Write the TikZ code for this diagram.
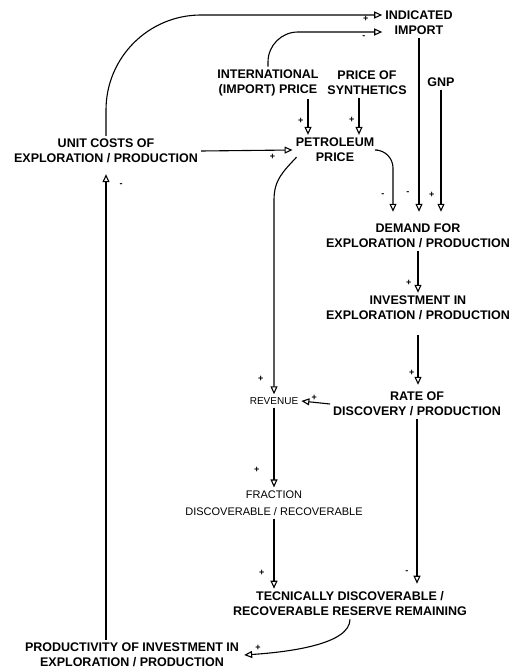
\documentclass[tikz,border=0pt]{standalone}
\usepackage{fontspec}
\setmainfont{Liberation Sans}
\usetikzlibrary{arrows.meta}

\begin{document}
\begin{tikzpicture}[x=1pt, y=-1pt,
    var/.style={font=\fontsize{12.5}{15}\selectfont\bfseries, align=center, inner sep=3pt},
    lite/.style={font=\fontsize{11}{17}\selectfont, align=center, inner sep=3pt},
    link/.style={-{Triangle[open, length=8pt, width=7pt]}, line width=1.1pt},
    sgn/.style={font=\small\bfseries, inner sep=1pt}]
    \useasboundingbox (0,0) rectangle (522,671);

    % Variables
    \node[var] (ind) at (419,23) {INDICATED\\IMPORT};
    \node[var] (intl) at (268,83) {INTERNATIONAL\\(IMPORT) PRICE};
    \node[var] (synth) at (367,83) {PRICE OF\\SYNTHETICS};
    \node[var] (gnp) at (441,82) {GNP};
    \node[var] (petrol) at (335,150) {PETROLEUM\\PRICE};
    \node[var] (unit) at (106,151) {UNIT COSTS OF\\EXPLORATION / PRODUCTION};
    \node[var] (demand) at (418,236) {DEMAND FOR\\EXPLORATION / PRODUCTION};
    \node[var] (invest) at (418,308) {INVESTMENT IN\\EXPLORATION / PRODUCTION};
    \node[var] (rate) at (417,404) {RATE OF\\DISCOVERY / PRODUCTION};
    \node[lite, font=\fontsize{10}{17}\selectfont] (revenue) at (274,401) {REVENUE};
    \node[lite] (fraction) at (274,503) {FRACTION\\DISCOVERABLE / RECOVERABLE};
    \node[var] (reserve) at (350,604) {TECNICALLY DISCOVERABLE /\\RECOVERABLE RESERVE REMAINING};
    \node[var] (prod) at (132,655) {PRODUCTIVITY OF INVESTMENT IN\\EXPLORATION / PRODUCTION};

    % Into indicated import
    \draw[link, rounded corners=95pt] (unit.north) |- ([yshift=8pt]ind.west)
        node[sgn, pos=0.97, below] {+};
    \draw[link, rounded corners=30pt] (intl.north) |- ([yshift=-9pt]ind.west)
        node[sgn, pos=0.92, below=2pt] {-};

    % Into petroleum price
    \draw[link] ([xshift=40pt]intl.south) -- ([xshift=40pt]intl.south |- petrol.north)
        node[sgn, pos=0.6, left=3pt] {+};
    \draw[link] ([xshift=-8pt]synth.south) -- ([xshift=-8pt]synth.south |- petrol.north)
        node[sgn, pos=0.6, left=3pt] {+};
    \draw[link] (unit.east) -- (petrol.west) node[sgn, pos=0.78, below=2pt] {+};

    % Into demand
    \draw[link, rounded corners=18pt, shorten >=9pt] (petrol.east) -| ([xshift=-25pt]demand.north)
        node[sgn, pos=0.82, left=7pt] {-};
    \draw[link, shorten >=9pt] (ind.south) -- (ind.south |- demand.north)
        node[sgn, pos=0.85, left=8pt] {-};
    \draw[link, shorten >=9pt] (gnp.south) -- (gnp.south |- demand.north)
        node[sgn, pos=0.8, left=5pt] {+};

    % Right column
    \draw[link] (demand.south) -- (invest.north) node[sgn, pos=0.75, left=5pt] {+};
    \draw[link, shorten <=12pt, shorten >=4pt] (invest.south) -- (invest.south |- rate.north)
        node[sgn, pos=0.75, left=2pt] {+};
    \draw[link] (rate.west) -- (revenue.east) node[sgn, pos=0.55, above] {+};
    \draw[link, shorten >=5pt] (rate.south) -- (rate.south |- reserve.north)
        node[sgn, pos=0.9, left=7pt] {-};

    % Left column
    \draw[link] ([shift={(4pt,8pt)}]petrol.south west)
        .. controls +(-14,15) and +(0,-20) .. ([yshift=-35pt]revenue.north |- petrol.south)
        -- (revenue.north) node[sgn, pos=0.92, left=9pt] {+};
    \draw[link] (revenue.south) -- (revenue.south |- fraction.north)
        node[sgn, pos=0.78, left=13pt] {+};
    \draw[link] (revenue.south |- fraction.south) -- (revenue.south |- reserve.north)
        node[sgn, pos=0.78, left=8pt] {+};

    % Back to unit costs
    \draw[link] (reserve.south) .. controls +(0,25) and +(45,-3) .. ([xshift=2pt]prod.east)
        node[sgn, pos=0.9, above=2pt] {+};
    \draw[link, shorten >=8pt] (unit.south |- prod.north) -- (unit.south)
        node[sgn, pos=0.96, right=12pt] {-};
\end{tikzpicture}
\end{document}
